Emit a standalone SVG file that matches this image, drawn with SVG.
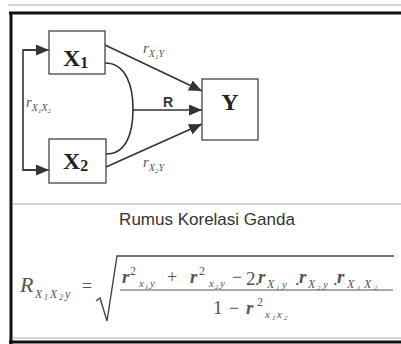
<svg xmlns="http://www.w3.org/2000/svg" width="401" height="344" viewBox="0 0 401 344">
<defs>
<style>
.box{fill:#fff;stroke:#444;stroke-width:1.3}
.ln{fill:none;stroke:#333;stroke-width:1.6}
.nl{font-family:"Liberation Serif","Times New Roman",serif;font-weight:bold;fill:#222}
.it{font-family:"Liberation Serif","Times New Roman",serif;font-style:italic;fill:#555}
.up{font-family:"Liberation Serif","Times New Roman",serif;fill:#555}
.ttl{font-family:"Liberation Sans",Arial,sans-serif;fill:#333}
.frame{stroke:#111;fill:none}
.thin{stroke:#aaa;stroke-width:1;fill:none}
</style>
<marker id="ah" viewBox="0 0 13 11" refX="13" refY="5.5" markerWidth="13" markerHeight="11" markerUnits="userSpaceOnUse" orient="auto">
<path d="M0,0 L13,5.5 L0,11 z" fill="#333"/>
</marker>
</defs>
<rect x="0" y="0" width="401" height="344" fill="#fff"/>
<g id="frame">
<line class="thin" x1="8" y1="5" x2="401" y2="5"/>
<line class="frame" stroke-width="3" x1="9" y1="13" x2="401" y2="13"/>
<line class="frame" stroke-width="3" x1="11" y1="12" x2="11" y2="344"/>
<line class="thin" x1="12" y1="338" x2="401" y2="338"/>
<line class="frame" stroke-width="3" x1="9" y1="342" x2="401" y2="342"/>
<line class="thin" x1="13" y1="204" x2="401" y2="204"/>
</g>
<g id="connectors">
<polyline class="ln" points="36,50 23,50 23,170 36,170"/>
<line class="ln" x1="23" y1="50" x2="49" y2="50" marker-end="url(#ah)"/>
<line class="ln" x1="23" y1="170" x2="49" y2="170" marker-end="url(#ah)"/>
<line class="ln" x1="105" y1="45" x2="202" y2="91" marker-end="url(#ah)"/>
<line class="ln" x1="106" y1="167" x2="202" y2="124" marker-end="url(#ah)"/>
<path class="ln" d="M105,63 C126,63 133,86 133,109 C133,134 126,154 106,154"/>
<line class="ln" x1="133" y1="110" x2="202" y2="110" marker-end="url(#ah)"/>
<text class="it" x="143" y="53" font-size="15">r<tspan font-size="10" dy="4">X</tspan><tspan font-size="7" dy="2">1</tspan><tspan font-size="10" dy="-2">Y</tspan></text>
<text x="163" y="107" font-family="Liberation Sans,Arial,sans-serif" font-weight="bold" font-size="14" fill="#333">R</text>
<text class="it" x="143" y="167" font-size="15">r<tspan font-size="10" dy="4">X</tspan><tspan font-size="7" dy="2">2</tspan><tspan font-size="10" dy="-2">Y</tspan></text>
<text class="it" x="26" y="107" font-size="15">r<tspan font-size="10" dy="4">X</tspan><tspan font-size="7" dy="2">1</tspan><tspan font-size="10" dy="-2">X</tspan><tspan font-size="7" dy="2">2</tspan></text>
</g>
<g id="X1">
<rect class="box" x="49" y="31" width="56" height="43"/>
<text class="nl" x="63" y="66" font-size="24">X<tspan font-size="16" dy="2">1</tspan></text>
</g>
<g id="X2">
<rect class="box" x="49" y="139" width="57" height="44"/>
<text class="nl" x="63" y="169" font-size="24">X<tspan font-size="16" dy="2">2</tspan></text>
</g>
<g id="Y">
<rect class="box" x="202" y="79" width="56" height="61"/>
<text class="nl" x="230" y="110" font-size="24" text-anchor="middle">Y</text>
</g>
<g id="formula">
<text class="ttl" x="207" y="225" font-size="17" text-anchor="middle">Rumus Korelasi Ganda</text>
<text class="it" x="20" y="292" font-size="22">R</text>
<text class="it" font-size="12"><tspan x="35" y="298">X</tspan><tspan x="44" y="300" font-size="8">1</tspan><tspan x="50" y="298">X</tspan><tspan x="59" y="300" font-size="8">2</tspan><tspan x="65" y="298">y</tspan></text>
<text class="up" x="82" y="292" font-size="18">=</text>
<path d="M96,301 L100,298 L107,321 L117,256 L394,256" fill="none" stroke="#444" stroke-width="1.4"/>
<line x1="120" y1="290" x2="393" y2="290" stroke="#555" stroke-width="1.1"/>
<text class="it" font-size="19" font-weight="bold"><tspan x="122" y="283">r</tspan><tspan x="190" y="283">r</tspan><tspan x="258" y="283">r</tspan><tspan x="299" y="283">r</tspan><tspan x="337" y="283">r</tspan><tspan x="246" y="314">r</tspan></text>
<text class="up" font-size="12"><tspan x="130" y="275">2</tspan><tspan x="199" y="275">2</tspan><tspan x="257" y="306">2</tspan></text>
<text class="up" font-size="18"><tspan x="167" y="283">+</tspan><tspan x="232" y="283">−</tspan><tspan x="246" y="285" font-size="19">2</tspan><tspan x="255" y="285">.</tspan><tspan x="295" y="285">.</tspan><tspan x="333" y="285">.</tspan><tspan x="213" y="314" font-size="19">1</tspan><tspan x="229" y="314">−</tspan></text>
<text class="it" font-size="11"><tspan x="139" y="287">x</tspan><tspan x="145" y="289" font-size="7">1</tspan><tspan x="150" y="287">y</tspan><tspan x="209" y="287">x</tspan><tspan x="215" y="289" font-size="7">2</tspan><tspan x="220" y="287">y</tspan><tspan x="267" y="288" font-size="12">X</tspan><tspan x="276" y="290" font-size="7">1</tspan><tspan x="282" y="288" font-size="11">y</tspan><tspan x="308" y="288" font-size="12">X</tspan><tspan x="317" y="290" font-size="7">2</tspan><tspan x="323" y="288" font-size="11">y</tspan><tspan x="347" y="288" font-size="12">X</tspan><tspan x="357" y="290" font-size="7">1</tspan><tspan x="364" y="288" font-size="12">X</tspan><tspan x="374" y="290" font-size="7">2</tspan><tspan x="265" y="318">x</tspan><tspan x="272" y="320" font-size="7">1</tspan><tspan x="277" y="318">x</tspan><tspan x="284" y="320" font-size="7">2</tspan></text>
</g>
</svg>
